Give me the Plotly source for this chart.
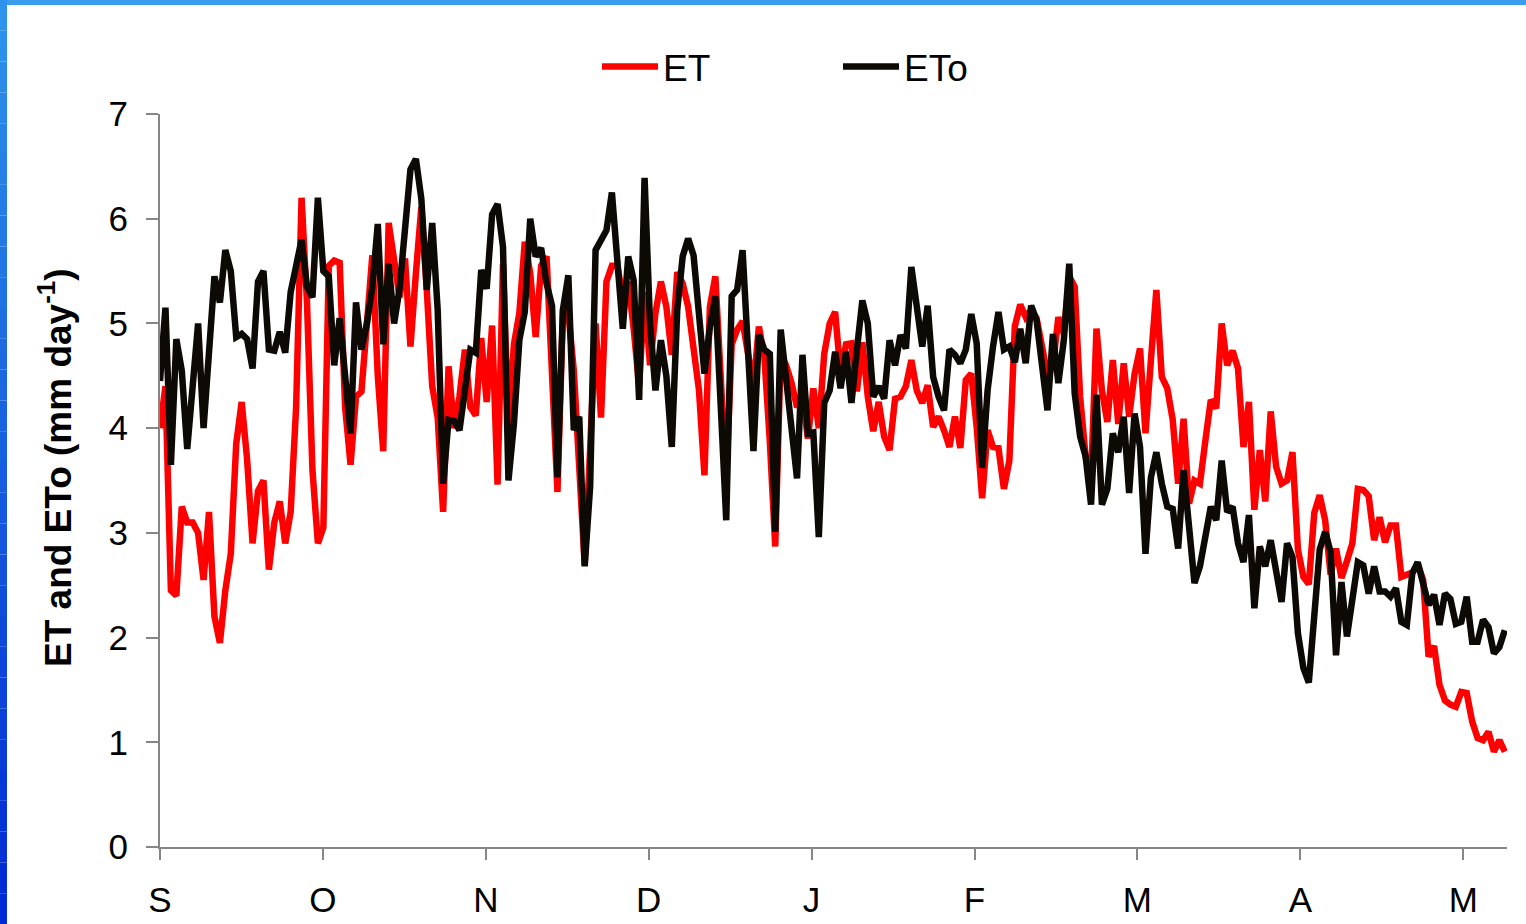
import plotly.graph_objects as go

# Daily values, 1 September onward (day index 0..247)
eto = [
    4.45, 5.15, 3.65, 4.85, 4.55, 3.80, 4.40, 5.00, 4.00, 4.80,
    5.45, 5.20, 5.70, 5.50, 4.87, 4.90, 4.85, 4.57, 5.40, 5.50,
    4.75, 4.74, 4.92, 4.72, 5.30, 5.55, 5.80, 5.35, 5.25, 6.20,
    5.50, 5.45, 4.60, 5.05, 4.50, 3.95, 5.20, 4.75, 5.00, 5.35,
    5.95, 4.80, 5.57, 5.00, 5.33, 5.84, 6.47, 6.57, 6.19, 5.32,
    5.96, 5.13, 3.47, 4.08, 4.07, 3.98, 4.40, 4.75, 4.72, 5.51,
    5.33, 6.04, 6.14, 5.73, 3.50, 4.04, 4.84, 5.11, 6.00, 5.64,
    5.72, 5.38, 5.17, 3.53, 5.13, 5.46, 3.98, 4.11, 2.68, 3.44,
    5.70, 5.81, 5.89, 6.25, 5.50, 4.95, 5.64, 5.41, 4.27, 6.39,
    5.00, 4.36, 4.84, 4.50, 3.82, 5.13, 5.64, 5.81, 5.65, 5.03,
    4.52, 4.97, 5.26, 4.20, 3.12, 5.26, 5.32, 5.70, 4.75, 3.78,
    4.89, 4.75, 4.71, 3.01, 4.94, 4.50, 4.00, 3.52, 4.70, 3.95,
    3.96, 2.96, 4.24, 4.36, 4.73, 4.38, 4.73, 4.24, 4.75, 5.22,
    5.00, 4.30, 4.40, 4.28, 4.84, 4.60, 4.89, 4.76, 5.54, 5.13,
    4.78, 5.17, 4.49, 4.30, 4.17, 4.75, 4.70, 4.62, 4.75, 5.09,
    4.81, 3.62, 4.36, 4.78, 5.11, 4.75, 4.78, 4.63, 4.95, 4.62,
    5.17, 5.03, 4.62, 4.17, 4.90, 4.43, 4.84, 5.57, 4.33, 3.92,
    3.73, 3.27, 4.32, 3.27, 3.42, 3.95, 3.77, 4.11, 3.38, 4.14,
    3.82, 2.80, 3.53, 3.77, 3.47, 3.25, 3.23, 2.85, 3.60, 3.09,
    2.52, 2.68, 2.96, 3.25, 3.12, 3.69, 3.20, 3.25, 2.90, 2.72,
    3.17, 2.28, 2.87, 2.68, 2.93, 2.64, 2.34, 2.90, 2.77, 2.04,
    1.71, 1.57, 2.17, 2.84, 3.01, 2.82, 1.83, 2.53, 2.01, 2.36,
    2.72, 2.69, 2.42, 2.68, 2.44, 2.44, 2.39, 2.47, 2.15, 2.12,
    2.61, 2.72, 2.52, 2.31, 2.41, 2.12, 2.42, 2.37, 2.13, 2.15,
    2.39, 1.96, 1.96, 2.17, 2.10, 1.85, 1.91, 2.07,
]

et = [
    4.00, 4.40, 2.45, 2.40, 3.25, 3.10, 3.10, 3.00, 2.55, 3.20,
    2.20, 1.95, 2.45, 2.80, 3.85, 4.25, 3.70, 2.90, 3.40, 3.50,
    2.65, 3.10, 3.30, 2.90, 3.20, 4.20, 6.20, 5.20, 3.60, 2.90,
    3.05, 5.55, 5.60, 5.58, 4.20, 3.65, 4.30, 4.35, 5.00, 5.65,
    4.50, 3.78, 5.96, 5.60, 5.25, 5.62, 4.78, 5.48, 6.11, 5.32,
    4.40, 4.10, 3.20, 4.59, 4.00, 4.30, 4.75, 4.20, 4.12, 4.86,
    4.25, 4.98, 3.46, 5.57, 4.00, 4.80, 5.10, 5.78, 5.48, 4.87,
    5.55, 5.64, 4.52, 3.39, 5.10, 5.10, 4.55, 3.50, 2.70, 3.80,
    5.00, 4.10, 5.40, 5.55, 5.55, 5.25, 5.40, 4.95, 4.40, 5.30,
    4.60, 5.10, 5.40, 5.16, 4.70, 5.49, 5.38, 5.16, 4.80, 4.36,
    3.55, 5.16, 5.45, 4.50, 3.50, 4.80, 4.94, 5.02, 4.70, 4.40,
    4.97, 4.68, 3.88, 2.87, 4.71, 4.60, 4.43, 4.20, 4.30, 3.90,
    4.38, 4.00, 4.71, 5.00, 5.11, 4.52, 4.80, 4.81, 4.35, 4.82,
    4.30, 3.97, 4.25, 3.92, 3.79, 4.28, 4.30, 4.40, 4.65, 4.36,
    4.24, 4.41, 4.01, 4.11, 3.98, 3.82, 4.11, 3.81, 4.46, 4.52,
    4.01, 3.33, 3.98, 3.82, 3.81, 3.42, 3.69, 4.97, 5.18, 5.06,
    5.13, 5.05, 4.78, 4.50, 4.60, 5.06, 4.90, 5.45, 5.35, 4.30,
    3.73, 3.50, 4.95, 4.36, 4.06, 4.65, 4.04, 4.62, 4.11, 4.52,
    4.76, 3.95, 4.65, 5.32, 4.49, 4.38, 4.08, 3.47, 4.09, 3.28,
    3.50, 3.47, 3.88, 4.27, 4.19, 5.00, 4.60, 4.74, 4.57, 3.82,
    4.25, 3.22, 3.79, 3.30, 4.16, 3.63, 3.47, 3.50, 3.77, 2.84,
    2.58, 2.51, 3.19, 3.36, 3.12, 2.60, 2.85, 2.57, 2.73, 2.90,
    3.42, 3.41, 3.35, 2.93, 3.15, 2.91, 3.07, 3.07, 2.58, 2.60,
    2.62, 2.70, 2.55, 1.82, 1.92, 1.55, 1.40, 1.36, 1.34, 1.48,
    1.47, 1.20, 1.04, 1.02, 1.10, 0.91, 1.02, 0.91,
]

month_labels = ["S", "O", "N", "D", "J", "F", "M", "A", "M"]
month_spacing_days = 29.92
y_ticks = [0, 1, 2, 3, 4, 5, 6, 7]

days = list(range(len(eto)))
tick_positions = [i * month_spacing_days for i in range(len(month_labels))]

FONT = "Liberation Sans, Arial, sans-serif"
AXIS_GRAY = "#868686"

W, H = 1526, 924
ML, MR, MT, MB = 160, 19, 114, 77
pw = W - ML - MR
ph = H - MT - MB


def px_to_paper_x(px):
    return (px - ML) / pw


def py_to_paper_y(py):
    return (H - MB - py) / ph


fig = go.Figure()
fig.add_trace(go.Scatter(
    x=days, y=et, mode="lines", name="ET",
    line=dict(color="#ff0000", width=6.5),
))
fig.add_trace(go.Scatter(
    x=days, y=eto, mode="lines", name="ETo",
    line=dict(color="#0d0a05", width=6.5),
))

fig.update_layout(
    width=W, height=H,
    margin=dict(l=ML, r=MR, t=MT, b=MB, autoexpand=False),
    paper_bgcolor="white", plot_bgcolor="white",
    font=dict(family=FONT, color="black", size=35),
    showlegend=True,
    legend=dict(
        orientation="h", x=px_to_paper_x(597), xanchor="left",
        y=py_to_paper_y(67), yanchor="middle",
        font=dict(size=37, family=FONT),
        entrywidth=170, entrywidthmode="pixels",
        itemwidth=56, bgcolor="rgba(0,0,0,0)",
    ),
)

fig.update_xaxes(
    range=[0, 247.4], tickvals=tick_positions, ticktext=month_labels,
    showline=True, linecolor=AXIS_GRAY, linewidth=2,
    ticks="outside", ticklen=11, tickwidth=2, tickcolor=AXIS_GRAY,
    showgrid=False, zeroline=False, tickfont=dict(size=35),
    ticklabelstandoff=10, automargin=False,
)
fig.update_yaxes(
    range=[0, 7], tickvals=y_ticks,
    showline=True, linecolor=AXIS_GRAY, linewidth=2,
    ticks="outside", ticklen=12, tickwidth=2, tickcolor=AXIS_GRAY,
    showgrid=False, zeroline=False, tickfont=dict(size=35),
    ticklabelstandoff=11, automargin=False,
)

fig.add_annotation(
    text="<b>ET and ETo (mm day<sup>-1</sup>)</b>",
    textangle=-90, xref="paper", yref="paper",
    x=px_to_paper_x(55), y=py_to_paper_y(468),
    xanchor="center", yanchor="middle", showarrow=False,
    font=dict(size=37, family=FONT, color="black"),
)

# Blue frame (top strip and left gradient strip)
fig.add_shape(type="rect", xref="paper", yref="paper",
              x0=px_to_paper_x(0), x1=px_to_paper_x(W),
              y0=py_to_paper_y(5), y1=py_to_paper_y(0),
              fillcolor="#3d9ded", line_width=0, layer="above")
n = 30
for i in range(n):
    t = i / (n - 1)
    r = int(0x2e + (0x00 - 0x2e) * t)
    g = int(0x93 + (0x2a - 0x93) * t)
    b = int(0xea + (0xd4 - 0xea) * t)
    fig.add_shape(type="rect", xref="paper", yref="paper",
                  x0=px_to_paper_x(0), x1=px_to_paper_x(7),
                  y0=py_to_paper_y(H * (i + 1) / n), y1=py_to_paper_y(H * i / n),
                  fillcolor=f"rgb({r},{g},{b})", line_width=0, layer="above")

fig.write_html("out.html")
